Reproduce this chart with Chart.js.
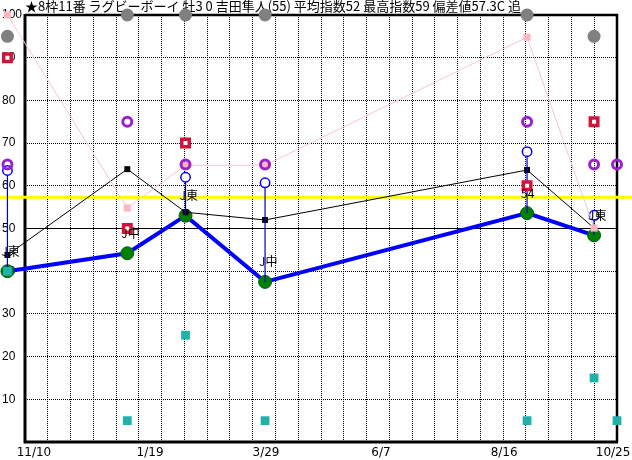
<!DOCTYPE html>
<html><head><meta charset="utf-8">
<script src="https://cdn.jsdelivr.net/npm/chart.js@4"></script>
<style>html,body{margin:0;padding:0;background:#fff;}canvas{display:block;}</style>
</head><body>
<canvas id="c" width="632" height="460"></canvas>
<script>
const titleText = '★8枠11番 ラグビーボーイ 牡3 0 吉田隼人(55) 平均指数52 最高指数59 偏差値57.3C 追';
// x values: days counted from the left edge of the axis
const raceDays  = [-10.8, 62.9, 98.7, 147.6, 308.7, 349.9, 364];
const mainIdx   = [40, 44.2, 53, 37.5, 53.6, 48.4, null];
const blackIdx  = [43.8, 63.9, 53.8, 52, 63.7, 50.1, null];
const pinkIdx   = [100, 54.8, 64.8, 64.8, 94.8, 50.1, null];
const purpleIdx = [65, 75, 65, 65, 75, 65, 65];
const blueIdx   = [63.6, null, 62, 60.7, 68, 53.1, null];
const redIdx    = [90, 50, 70, null, 60, 75, null];
const tealIdx   = [40, 5, 25, 5, 5, 15, 5];
const grayIdx   = [95, 100, 100, 100, 100, 95, null];
const raceNotes = ['J東', 'J中', 'J東', 'J中', '54', 'J東', ''];
const deviation = 57.3;
const xRange = [0, 364];
const xTickDays   = [5.5, 76.9, 148.2, 218.9, 294.6, 361.6];
const xTickLabels = ['11/10', '1/19', '3/29', '6/7', '8/16', '10/25'];

const pts = arr => raceDays.map((d, i) => ({x: d, y: arr[i]})).filter(p => p.y != null);
const stemPts = [];
raceDays.forEach((d, i) => {
  if (blueIdx[i] != null && mainIdx[i] != null) {
    stemPts.push({x: d, y: blueIdx[i]}, {x: d, y: mainIdx[i]}, {x: d, y: null});
  }
});

const framePlugin = {
  id: 'frame',
  beforeDatasetsDraw(chart) {
    const {ctx, chartArea: a} = chart;
    ctx.save();
    ctx.strokeStyle = '#000';
    ctx.lineWidth = 2.5;
    ctx.beginPath();
    ctx.moveTo(a.left, a.top); ctx.lineTo(a.right, a.top); ctx.lineTo(a.right, a.bottom);
    ctx.stroke();
    ctx.lineWidth = 3;
    ctx.beginPath();
    ctx.moveTo(a.left, a.top - 1); ctx.lineTo(a.left, a.bottom); ctx.lineTo(a.right + 1, a.bottom);
    ctx.stroke();
    ctx.restore();
  }
};
// let marks that sit outside the plot frame (first race, top row) be drawn too
const unclipPlugin = {
  id: 'unclip',
  beforeDatasetsDraw(chart) {
    this._saved = chart.chartArea;
    chart.chartArea = {left: -100, top: -100, right: chart.width + 100, bottom: chart.height + 100,
      width: chart.width + 200, height: chart.height + 200};
  },
  afterDatasetsDraw(chart) {
    if (this._saved) chart.chartArea = this._saved;
  }
};
const notesPlugin = {
  id: 'notes',
  afterDatasetsDraw(chart) {
    const {ctx, scales: {x, y}} = chart;
    ctx.save();
    ctx.fillStyle = '#000';
    ctx.font = '12px "Noto Sans CJK JP", sans-serif';
    ctx.textAlign = 'left';
    ctx.textBaseline = 'middle';
    raceNotes.forEach((t, i) => {
      if (!t || mainIdx[i] == null) return;
      ctx.fillText(t, x.getPixelForValue(raceDays[i]) - 6, y.getPixelForValue(mainIdx[i]) - 20);
    });
    ctx.restore();
  }
};

new Chart(document.getElementById('c'), {
  type: 'scatter',
  data: {
    datasets: [
      {data: [{x: -16, y: deviation}, {x: 374, y: deviation}], showLine: true, borderColor: '#FFFF00', borderWidth: 3, pointRadius: 0, order: 10, clip: false},
      {data: pts(mainIdx), showLine: true, borderColor: '#0000FF', borderWidth: 4, pointRadius: 6.5, pointBackgroundColor: '#008000', pointBorderColor: '#0b5a1a', pointBorderWidth: 1, order: 9, clip: false},
      {data: pts(blackIdx), showLine: true, borderColor: '#000', borderWidth: 1, pointStyle: 'rect', pointRadius: 4.2, pointBackgroundColor: '#000', pointBorderWidth: 0, order: 8, clip: false},
      {data: stemPts, showLine: true, spanGaps: false, borderColor: '#0000CC', borderWidth: 1.2, pointRadius: 0, order: 7, clip: false},
      {data: pts(blueIdx), pointRadius: 4.7, pointBorderColor: '#0000FF', pointBorderWidth: 1.5, pointBackgroundColor: '#fff', order: 6, clip: false},
      {data: pts(pinkIdx), showLine: true, borderColor: '#F7C6CF', borderWidth: 1, pointStyle: 'rect', pointRadius: 5, pointBackgroundColor: '#FFB6C1', pointBorderWidth: 0, order: 5, clip: false},
      {data: pts(purpleIdx), pointRadius: 4.5, pointBorderColor: '#9922CC', pointBorderWidth: 3, pointBackgroundColor: 'rgba(0,0,0,0)', order: 4, clip: false},
      {data: pts(redIdx), pointStyle: 'rect', pointRadius: 5.3, pointBorderColor: '#D2143C', pointBorderWidth: 3.5, pointBackgroundColor: '#fff', order: 3, clip: false},
      {data: pts(tealIdx), pointStyle: 'rect', pointRadius: 6.2, pointBackgroundColor: '#20B2AA', pointBorderWidth: 0, order: 2, clip: false},
      {data: pts(grayIdx), pointRadius: 6.5, pointBackgroundColor: '#808080', pointBorderWidth: 0, order: 1, clip: false}
    ]
  },
  options: {
    responsive: false,
    devicePixelRatio: 1,
    animation: false,
    events: [],
    layout: {padding: {left: 2, right: 15, top: 0, bottom: 0}},
    plugins: {
      legend: {display: false},
      tooltip: {enabled: false},
      title: {
        display: true, text: titleText, align: 'start', fullSize: false, color: '#000',
        font: {family: '"Noto Sans CJK JP", sans-serif', size: 13, weight: 'normal', lineHeight: '13px'},
        padding: {top: 0, bottom: 2}
      }
    },
    scales: {
      x: {
        type: 'linear', position: 'bottom',
        afterDataLimits: s => { s.min = xRange[0]; s.max = xRange[1]; },
        afterFit: s => { s.height = 0; s.paddingLeft = 0; s.paddingRight = 0; },
        ticks: {display: false, stepSize: 14},
        grid: {color: '#000', lineWidth: 1, drawTicks: false},
        border: {display: false, dash: [1, 1]}
      },
      xl: {
        type: 'linear', position: 'bottom', min: xRange[0], max: xRange[1],
        grid: {display: false, drawTicks: false},
        border: {display: false},
        afterBuildTicks: s => { s.ticks = xTickDays.map(v => ({value: v})); },
        afterFit: s => { s.height = 18; s.paddingLeft = 0; s.paddingRight = 0; },
        ticks: {autoSkip: false, maxRotation: 0, minRotation: 0, padding: 4, color: '#000',
          font: {family: '"DejaVu Sans", sans-serif', size: 12},
          callback: (v, i) => xTickLabels[i]}
      },
      y: {
        min: 0, max: 100,
        ticks: {stepSize: 10, crossAlign: 'far', padding: 0, color: '#000',
          font: {family: '"Liberation Sans", sans-serif', size: 12},
          callback: v => (v === 0 ? '' : v)},
        grid: {color: '#000', lineWidth: 1, drawTicks: false},
        border: {display: false, dash: c => (c.tick && c.tick.value === 50) ? [] : [1, 1]},
        afterFit: s => { s.width = 23; s.paddingTop = 0; s.paddingBottom = 0; }
      }
    }
  },
  plugins: [framePlugin, unclipPlugin, notesPlugin]
});
</script>
</body></html>
